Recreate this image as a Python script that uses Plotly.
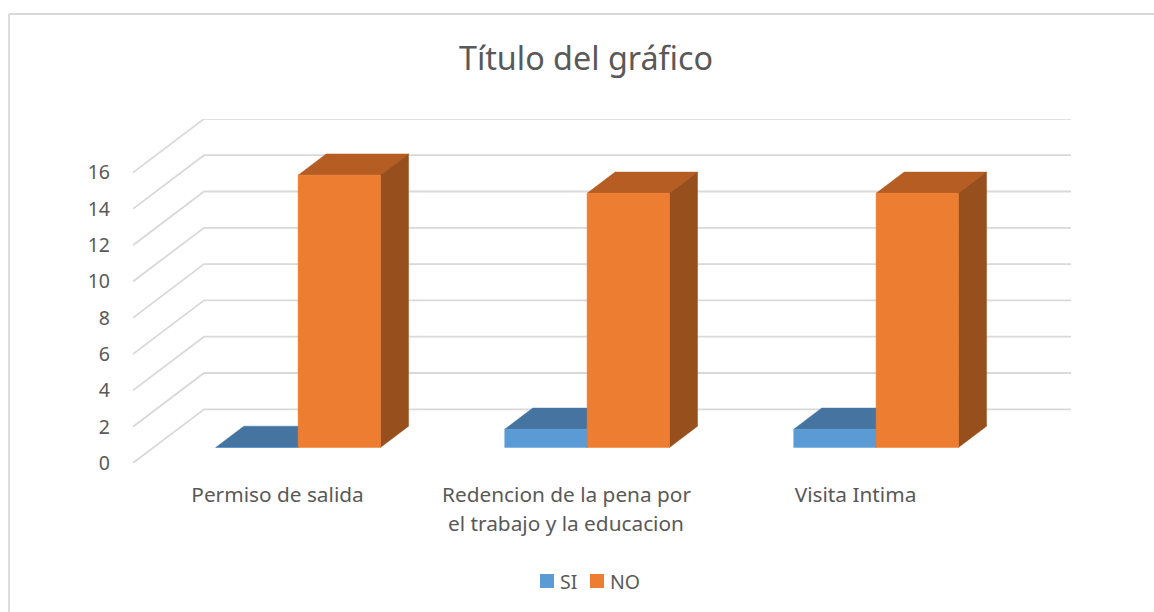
import plotly.graph_objects as go

categories = ['Permiso de salida', 'Redencion de la pena por', 'Visita Intima']
category_second_lines = ['', 'el trabajo y la educacion', '']
si_values = [0, 1, 1]
no_values = [15, 14, 14]
y_ticks = [0, 2, 4, 6, 8, 10, 12, 14, 16]

FONT = 'Noto Sans'
TEXT = '#595959'
GRID = '#D9D9D9'
COLORS = {
    'SI': dict(front='#5B9BD5', top='#44749F', side='#355D83'),
    'NO': dict(front='#ED7D31', top='#B55D22', side='#964F1D'),
}

W, H = 1154, 612
L, R, T, B = 133, 82, 119, 149
plot_w, plot_h = W - L - R, H - T - B
cat_px, val_px = 289, 18.15

# oblique projection of the depth axis, in data units
depth_x = 71 / cat_px
depth_y = 53.7 / val_px
bar_w = 0.285
gap = 0.215
z0, z1 = 0.29, 0.685


def proj(c, v, z):
    return c + z * depth_x, v + z * depth_y


def face(points, color, name, text=None):
    xs, ys = zip(*[proj(*p) for p in points + points[:1]])
    return go.Scatter(x=xs, y=ys, mode='lines', fill='toself', fillcolor=color,
                      line=dict(color=color, width=0.5), name=name, text=text,
                      hoverinfo='name+text', showlegend=False)


def bar(c0, value, colors, name, label):
    c1 = c0 + bar_w
    text = f'{label}: {value}'
    return [
        face([(c0, value, z0), (c1, value, z0), (c1, value, z1), (c0, value, z1)], colors['top'], name, text),
        face([(c1, 0, z0), (c1, 0, z1), (c1, value, z1), (c1, value, z0)], colors['side'], name, text),
        face([(c0, 0, z0), (c1, 0, z0), (c1, value, z0), (c0, value, z0)], colors['front'], name, text),
    ]


def xp(px):
    return (px - L) / plot_w


def yp(px):
    return (H - B - px) / plot_h


fig = go.Figure()

# gridlines run up the floor side and along the back wall
grid_x, grid_y = [], []
for v in y_ticks:
    for c, z in [(0, 0), (0, 1), (len(categories), 1)]:
        x, y = proj(c, v, z)
        grid_x.append(x)
        grid_y.append(y)
    grid_x.append(None)
    grid_y.append(None)
fig.add_trace(go.Scatter(x=grid_x, y=grid_y, mode='lines', line=dict(color=GRID, width=1.8),
                         hoverinfo='skip', showlegend=False))

for i, cat in enumerate(categories):
    for t in bar(i + gap, si_values[i], COLORS['SI'], 'SI', cat):
        fig.add_trace(t)
    for t in bar(i + gap + bar_w, no_values[i], COLORS['NO'], 'NO', cat):
        fig.add_trace(t)

annotations = []
for i, line in enumerate(category_second_lines):
    if line:
        annotations.append(dict(x=i + 0.5, xref='x', y=yp(523), yref='paper', text=line, showarrow=False,
                                yanchor='middle', xshift=-1, font=dict(family=FONT, size=20.8, color=TEXT)))

# legend drawn by hand, the square to text gap is tighter than a plotly legend allows
shapes = [
    dict(type='line', xref='paper', yref='paper', x0=xp(9), x1=xp(9), y0=yp(14), y1=yp(612),
         line=dict(color=GRID, width=1.8)),
    dict(type='line', xref='paper', yref='paper', x0=xp(9), x1=xp(1154), y0=yp(14), y1=yp(14),
         line=dict(color=GRID, width=1.8)),
]
for name, sq_left, text_left in [('SI', 540, 560), ('NO', 590, 610)]:
    shapes.append(dict(type='rect', xref='paper', yref='paper', x0=xp(sq_left), x1=xp(sq_left + 14),
                       y0=yp(574), y1=yp(588), fillcolor=COLORS[name]['front'], line=dict(width=0)))
    annotations.append(dict(x=xp(text_left), xref='paper', y=yp(581), yref='paper', text=name, showarrow=False,
                            xanchor='left', yanchor='middle', xshift=-2, font=dict(family=FONT, size=19.5, color=TEXT)))

fig.update_layout(
    width=W, height=H, autosize=False,
    margin=dict(l=L, r=R, t=T, b=B),
    paper_bgcolor='white', plot_bgcolor='rgba(0,0,0,0)',
    showlegend=False,
    title=dict(text='Título del gráfico', x=586 / W, xanchor='center', xref='container', y=1 - 59 / H, yanchor='middle',
               font=dict(family=FONT, size=32.3, color=TEXT)),
    shapes=shapes, annotations=annotations,
)
fig.update_xaxes(range=[0, plot_w / cat_px], showgrid=False, zeroline=False, showline=False,
                 tickmode='array', tickvals=[i + 0.5 for i in range(len(categories))], ticktext=categories,
                 tickangle=0, ticks='', ticklabelstandoff=17, tickfont=dict(family=FONT, size=20.8, color=TEXT))
fig.update_yaxes(range=[0, plot_h / val_px], showgrid=False, zeroline=False, showline=False,
                 tickmode='array', tickvals=y_ticks, ticks='', ticklabelstandoff=22,
                 tickfont=dict(family=FONT, size=19.5, color=TEXT))

# the page's default body margin would push the figure 8px off
fig.write_html("out.html", config=dict(displayModeBar=False),
               post_script="document.body.style.margin='0';document.body.style.overflow='hidden';")
